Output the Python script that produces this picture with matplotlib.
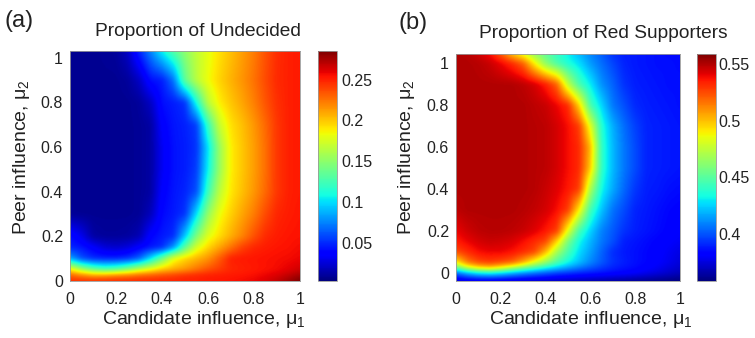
import numpy as np
import matplotlib
matplotlib.use("Agg")
import matplotlib.pyplot as plt

plt.rcParams['font.family'] = ['Liberation Sans', 'DejaVu Sans']
plt.rcParams['mathtext.fontset'] = 'custom'
plt.rcParams['mathtext.rm'] = 'Liberation Sans'
plt.rcParams['mathtext.it'] = 'Liberation Sans'

# ---------------- data ----------------
mu1 = [0.0, 0.05, 0.1, 0.15, 0.2, 0.25, 0.3, 0.35, 0.4, 0.45, 0.5,
       0.55, 0.6, 0.65, 0.7, 0.75, 0.8, 0.85, 0.9, 0.95, 1.0]

# Panel (a): proportion of undecided
mu2_a = [0.0, 0.025, 0.05, 0.1, 0.15, 0.2, 0.3, 0.4, 0.5, 0.6, 0.7, 0.8, 0.9, 1.03]
undecided = [
    [.245, .245, .246, .246, .247, .247, .248, .248, .249, .249, .25, .25, .252, .253, .254, .256, .258, .262, .268, .276, .285],
    [.23, .22, .21, .212, .218, .222, .228, .232, .236, .24, .245, .248, .25, .251, .252, .253, .255, .258, .262, .268, .275],
    [.19, .16, .14, .13, .135, .15, .17, .185, .20, .208, .215, .225, .235, .242, .248, .25, .252, .254, .256, .26, .265],
    [.085, .06, .05, .048, .048, .052, .065, .10, .14, .18, .195, .205, .215, .232, .25, .252, .253, .254, .255, .256, .258],
    [.048, .044, .035, .025, .022, .026, .036, .044, .05, .08, .134, .175, .195, .21, .225, .24, .248, .251, .253, .254, .256],
    [.042, .03, .012, .01, .01, .011, .016, .038, .045, .05, .094, .145, .178, .193, .207, .22, .235, .247, .251, .253, .254],
    [.009, .008, .008, .008, .008, .008, .009, .018, .04, .045, .052, .10, .152, .182, .197, .21, .222, .237, .248, .251, .253],
    [.008, .008, .008, .008, .008, .008, .009, .012, .036, .044, .048, .06, .122, .166, .19, .202, .214, .228, .243, .25, .252],
    [.008, .008, .008, .008, .008, .008, .009, .012, .032, .043, .046, .055, .105, .154, .188, .2, .212, .226, .243, .25, .252],
    [.008, .008, .008, .008, .008, .008, .009, .012, .032, .043, .046, .052, .10, .154, .188, .2, .212, .226, .243, .25, .252],
    [.008, .008, .008, .008, .008, .008, .009, .012, .036, .044, .047, .055, .12, .17, .192, .202, .214, .228, .243, .25, .252],
    [.008, .008, .008, .008, .008, .008, .01, .02, .042, .046, .052, .11, .165, .188, .2, .21, .221, .234, .245, .25, .252],
    [.008, .008, .008, .008, .008, .01, .02, .042, .046, .07, .135, .165, .183, .196, .206, .215, .225, .237, .247, .25, .252],
    [.008, .008, .008, .009, .01, .02, .048, .075, .105, .13, .15, .167, .18, .192, .202, .212, .222, .235, .246, .25, .252],
]

# Panel (b): proportion of red supporters
mu2_b = [-0.04, 0.0, 0.025, 0.05, 0.1, 0.15, 0.2, 0.3, 0.4, 0.5, 0.6, 0.7, 0.8, 0.9, 1.0, 1.045]
red_supporters = [
    [.372, .374, .375, .375, .374, .373, .372, .371, .37, .369, .368, .367, .366, .365, .364, .363, .362, .361, .36, .359, .358],
    [.405, .42, .43, .433, .428, .42, .413, .407, .402, .397, .394, .391, .389, .387, .385, .383, .381, .378, .375, .372, .369],
    [.455, .48, .495, .5, .49, .475, .46, .447, .435, .425, .416, .408, .401, .395, .39, .387, .385, .382, .379, .375, .372],
    [.49, .515, .525, .528, .525, .52, .505, .484, .465, .447, .433, .421, .41, .401, .393, .389, .386, .384, .381, .378, .374],
    [.525, .532, .538, .54, .54, .537, .532, .526, .502, .469, .446, .427, .415, .403, .392, .388, .386, .384, .382, .379, .376],
    [.535, .54, .544, .546, .545, .543, .538, .532, .526, .496, .458, .433, .419, .407, .399, .389, .387, .385, .383, .381, .379],
    [.54, .545, .548, .549, .549, .548, .546, .542, .536, .528, .484, .445, .425, .409, .401, .393, .389, .387, .385, .383, .381],
    [.548, .55, .55, .55, .55, .55, .549, .547, .544, .538, .528, .49, .444, .422, .406, .398, .39, .388, .386, .384, .383],
    [.55, .55, .55, .55, .55, .55, .55, .549, .546, .542, .536, .528, .47, .433, .417, .404, .394, .389, .388, .386, .385],
    [.55, .55, .55, .55, .55, .55, .55, .549, .548, .544, .538, .532, .498, .44, .42, .407, .398, .39, .389, .388, .387],
    [.55, .55, .55, .55, .55, .55, .55, .549, .548, .544, .538, .532, .502, .44, .42, .407, .398, .39, .389, .388, .387],
    [.55, .55, .55, .55, .55, .55, .55, .549, .548, .544, .538, .528, .484, .437, .418, .405, .396, .39, .389, .388, .387],
    [.55, .55, .55, .55, .55, .55, .55, .548, .546, .54, .532, .496, .446, .426, .407, .399, .391, .389, .388, .387, .386],
    [.55, .55, .55, .55, .55, .55, .548, .544, .535, .52, .475, .446, .43, .412, .403, .393, .389, .388, .387, .386, .386],
    [.55, .55, .549, .546, .54, .532, .52, .49, .463, .447, .436, .427, .414, .405, .397, .39, .388, .387, .386, .386, .385],
    [.55, .549, .545, .538, .522, .5, .484, .465, .452, .441, .431, .42, .41, .402, .393, .389, .388, .387, .386, .385, .385],
]

axis_ticks = [0, 0.2, 0.4, 0.6, 0.8, 1]
axis_ticklabels = ['0', '0.2', '0.4', '0.6', '0.8', '1']
cbar_ticks_a = [0.05, 0.1, 0.15, 0.2, 0.25]
cbar_labels_a = ['0.05', '0.1', '0.15', '0.2', '0.25']
cbar_ticks_b = [0.4, 0.45, 0.5, 0.55]
cbar_labels_b = ['0.4', '0.45', '0.5', '0.55']

W, H = 755, 338
fig = plt.figure(figsize=(W / 100, H / 100), dpi=100)

def fbox(x0, y0, x1, y1):
    return [x0 / W, 1 - y1 / H, (x1 - x0) / W, (y1 - y0) / H]

def resample(xs, ys, z, n=321, sigma_px=3.0):
    """Bilinear resampling of the read grid onto a fine regular raster,
    followed by a light blur (rendering only)."""
    z = np.asarray(z, float)
    xf = np.linspace(xs[0], xs[-1], n)
    yf = np.linspace(ys[0], ys[-1], n)
    zx = np.array([np.interp(xf, xs, row) for row in z])
    zf = np.array([np.interp(yf, ys, zx[:, j]) for j in range(n)]).T
    r = int(3 * sigma_px)
    k = np.exp(-0.5 * (np.arange(-r, r + 1) / sigma_px) ** 2)
    k /= k.sum()
    zp = np.pad(zf, ((0, 0), (r, r)), mode='edge')
    zf = np.array([np.convolve(row, k, mode='valid') for row in zp])
    zp = np.pad(zf, ((r, r), (0, 0)), mode='edge')
    zf = np.array([np.convolve(zp[:, j], k, mode='valid') for j in range(n)]).T
    return zf

spine_col = '#9a9a9a'
tick_fs = 11.5
tc = '#222222'

def panel(ax_box, cax_box, y, z, vmin, vmax, xlim, ylim, cticks, clabels, cpad):
    ax = fig.add_axes(fbox(*ax_box))
    zf = resample(mu1, y, z)
    m = ax.imshow(zf, extent=[mu1[0], mu1[-1], y[0], y[-1]], origin='lower',
                  aspect='auto', cmap='jet', vmin=vmin, vmax=vmax,
                  interpolation='bilinear')
    ax.set_xlim(*xlim)
    ax.set_ylim(*ylim)
    ax.set_xticks(axis_ticks)
    ax.set_xticklabels(axis_ticklabels)
    ax.set_yticks(axis_ticks)
    ax.set_yticklabels(axis_ticklabels)
    ax.tick_params(length=0, labelsize=tick_fs, colors=tc)
    ax.tick_params(axis='x', pad=8)
    ax.tick_params(axis='y', pad=5)
    for s in ax.spines.values():
        s.set_color(spine_col)
        s.set_linewidth(0.6)
    cax = fig.add_axes(fbox(*cax_box))
    cb = fig.colorbar(m, cax=cax)
    cb.set_ticks(cticks)
    cb.set_ticklabels(clabels)
    cax.tick_params(length=0, labelsize=tick_fs, pad=cpad, colors=tc)
    cb.outline.set_edgecolor(spine_col)
    cb.outline.set_linewidth(0.6)
    return ax

panel((70, 51, 300, 281), (318, 51, 337, 281), mu2_a, undecided,
      0.003, 0.285, (0, 1.0), (0, 1.03), cbar_ticks_a, cbar_labels_a, 3)
panel((456, 54, 680, 281), (697, 54, 716, 281), mu2_b, red_supporters,
      0.358, 0.559, (0, 1.0), (-0.038, 1.043), cbar_ticks_b, cbar_labels_b, 2)

lab_fs = 14

def ftext(x, y, s, **kw):
    fig.text(x / W, 1 - y / H, s, color=tc, **kw)

ftext(5, 21, '(a)', fontsize=17, ha='left', va='center')
ftext(398, 23, '(b)', fontsize=17, ha='left', va='center')
ftext(198, 32, 'Proportion of Undecided', fontsize=13.8, ha='center', va='center')
ftext(603, 33, 'Proportion of Red Supporters', fontsize=13.8, ha='center', va='center')
ftext(204, 320, r'Candidate influence, μ$_1$', fontsize=lab_fs, ha='center', va='center')
ftext(591, 320, r'Candidate influence, μ$_1$', fontsize=lab_fs, ha='center', va='center')
ftext(22, 157, r'Peer influence, μ$_2$', fontsize=lab_fs, ha='center', va='center', rotation=90)
ftext(407, 157, r'Peer influence, μ$_2$', fontsize=lab_fs, ha='center', va='center', rotation=90)

fig.savefig('out.png', dpi=100)
